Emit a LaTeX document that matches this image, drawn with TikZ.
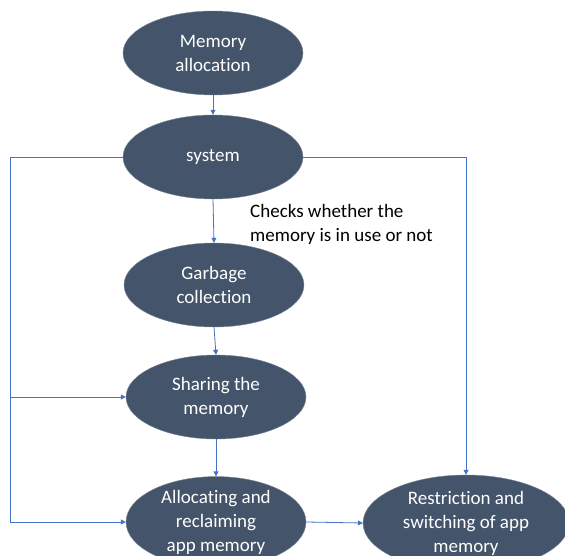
\documentclass[tikz,border=0pt]{standalone}
\usepackage{fontspec}
\setmainfont{Carlito}[RawFeature=-liga]
\usetikzlibrary{shapes.geometric,arrows.meta}
\definecolor{elfill}{HTML}{44546A}
\definecolor{linkblue}{HTML}{4472C4}
\begin{document}
\begin{tikzpicture}[x=1pt,y=-1pt,
  oval/.style={ellipse, fill=elfill, draw=elfill!70!white, line width=0.4pt, text=white, align=center,
     inner sep=0pt, font=\fontsize{19}{24}\selectfont},
  link/.style={draw=linkblue, line width=0.8pt, -{Triangle[length=5pt,width=5pt]}},
  plain/.style={draw=linkblue, line width=0.8pt}]
\useasboundingbox (0,0) rectangle (565,556);
\clip (0,0) rectangle (565,556);
\node[oval, minimum width=180pt, minimum height=84pt] (mem) at (213,53) {Memory\\allocation};
\node[oval, minimum width=180pt, minimum height=84pt] (sys) at (213,157) {system};
\node[oval, minimum width=180pt, minimum height=84pt] (gc) at (214,285) {Garbage\\collection};
\node[oval, minimum width=180pt, minimum height=84pt] (share) at (216,397) {Sharing the\\memory};
\node[oval, minimum width=180pt, minimum height=86pt] (alloc) at (216,522) {Allocating and\\reclaiming\\app memory};
\node[oval, minimum width=206pt, minimum height=96pt] (restr) at (466,523) {Restriction and\\switching of app\\memory};
\node[anchor=north west, align=left, inner sep=0pt, font=\fontsize{19}{24}\selectfont] (note) at (250,204)
  {Checks whether the\\memory is in use or not};
\coordinate (lt) at (10,157);
\coordinate (lb) at (10,522);
\coordinate (rt) at (466,157);
\draw[link] (mem.south) -- (sys.north);
\draw[link] (sys.south) -- (gc.north);
\draw[link] (gc.south) -- (share.north);
\draw[link] (share.south) -- (alloc.north);
\draw[link] (alloc.east) -- (restr.west);
\draw[plain] (sys.west) -- (lt) -- (lb);
\draw[link] (lt |- share.west) -- (share.west);
\draw[link] (lb) -- (alloc.west);
\draw[link] (sys.east) -- (rt) -- (restr.north);
\end{tikzpicture}
\end{document}
